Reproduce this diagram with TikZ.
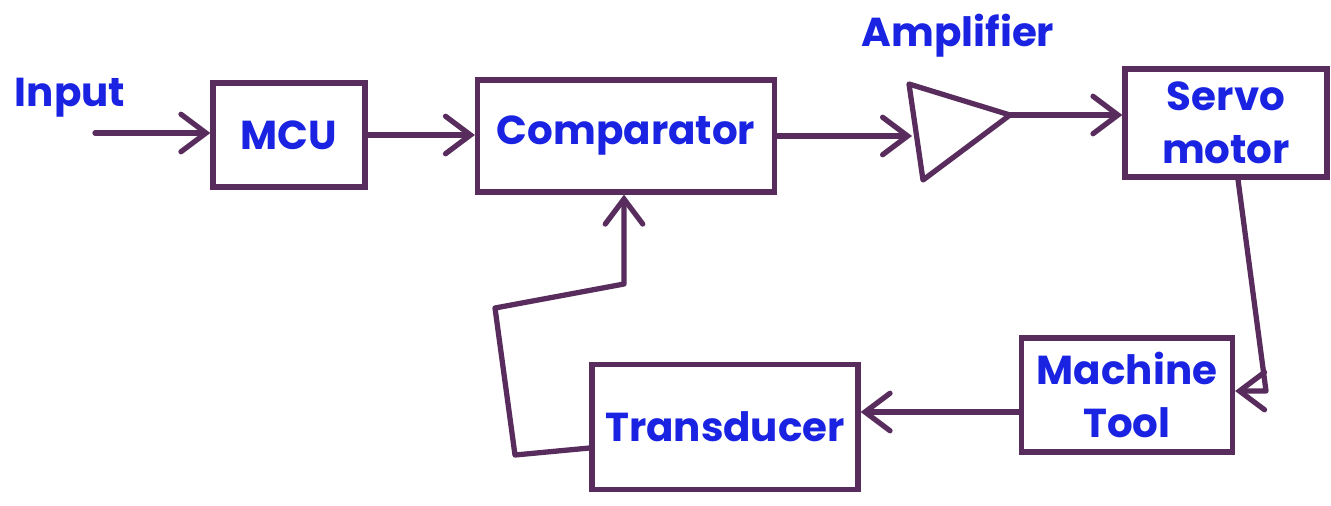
\documentclass[tikz,border=0pt]{standalone}
\usepackage{fontspec}
\setmainfont{Poppins}
\usetikzlibrary{arrows.meta,calc}
\definecolor{ink}{RGB}{88,44,92}
\definecolor{pen}{RGB}{25,35,225}
\begin{document}
\begin{tikzpicture}[x=0.02cm,y=-0.02cm,
  wire/.style={draw=ink,line width=3pt,line cap=round,line join=round},
  flow/.style={wire,-{Straight Barb[length=0.5cm,width=0.75cm,line cap=round]}},
  block/.style={draw=ink,line width=3pt,rectangle,inner sep=0pt,align=center,
    text=pen,font=\bfseries\fontsize{23}{30}\selectfont},
  label/.style={text=pen,font=\bfseries\fontsize{23}{28}\selectfont,inner sep=0pt}]
  \useasboundingbox (0,0) rectangle (1331,505);

  % blocks
  \node[block,minimum width=3.04cm,minimum height=2.08cm] (mcu) at (289,135) {MCU};
  \node[block,minimum width=5.94cm,minimum height=2.24cm] (comp) at (626,136) {Comparator};
  \node[block,minimum width=4.04cm,minimum height=2.16cm] (servo) at (1226,123) {Servo\\motor};
  \node[block,minimum width=4.22cm,minimum height=2.28cm] (mt) at (1127,395) {Machine\\Tool};
  \node[block,minimum width=5.32cm,minimum height=2.5cm] (tr) at (725,427) {Transducer};

  % amplifier triangle
  \coordinate (amp-tl) at (909,84);
  \coordinate (amp-bl) at (923,180);
  \coordinate (amp-out) at (1010,115);
  \coordinate (amp-in) at (912,133);
  \draw[wire] (amp-tl) -- (amp-out) -- (amp-bl) -- cycle;

  % labels
  \node[label] (lin) at (70,98) {Input};
  \node[label] (lamp) at (958,36) {Amplifier};

  % forward path
  \coordinate (src) at (95,133);
  \draw[flow] (src) -- (src -| mcu.west);
  \draw[flow] (mcu.east) -- (mcu.east -| comp.west);
  \draw[flow] (comp.east) -- (comp.east -| amp-in);
  \draw[flow] (amp-out) -- (amp-out -| servo.west);

  % servo motor down to machine tool
  \coordinate (sv-out) at ([xshift=0.24cm]servo.south);
  \coordinate (sv-turn) at (1266,391);
  \draw[flow] (sv-out) -- (sv-turn) -- (sv-turn -| mt.east);

  % machine tool to transducer
  \coordinate (mt-out) at ([yshift=-0.34cm]mt.west);
  \draw[flow] (mt-out) -- (mt-out -| tr.east);

  % feedback loop to comparator
  \coordinate (tr-out) at ([yshift=-0.42cm]tr.west);
  \coordinate (fb1) at (515,455);
  \coordinate (fb2) at (495,308);
  \coordinate (fb3) at (624,284);
  \draw[flow] (tr-out) -- (fb1) -- (fb2) -- (fb3) -- (fb3 |- comp.south);
\end{tikzpicture}
\end{document}
